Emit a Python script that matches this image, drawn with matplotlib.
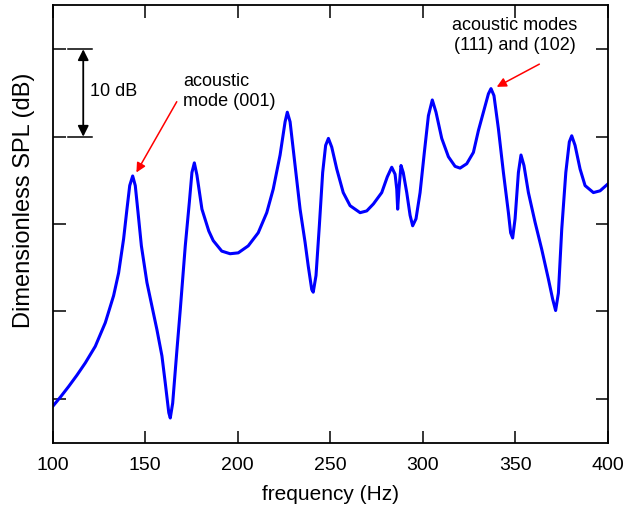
import numpy as np
import matplotlib
matplotlib.use('Agg')
import matplotlib.pyplot as plt

plt.rcParams['font.family'] = ['Liberation Sans', 'DejaVu Sans']

# frequency (Hz) and dimensionless SPL (dB)
freq = [100, 104.3, 108.7, 113.2, 117.7, 123.1, 128.5, 133.0, 135.7, 138.4, 140.2,
        141.7, 143.3, 144.7, 146.2, 148.0, 151.0, 153.7, 156.4, 159.1, 160.9, 162.8,
        163.6, 164.9, 167.2, 169.0, 171.7, 173.9, 175.3, 176.6, 178.0, 180.7, 184.4,
        186.8, 191.4, 195.9, 200.3, 205.7, 211.1, 215.7, 219.2, 222.9, 225.6, 226.8,
        228.3, 231.0, 233.7, 236.4, 238.1, 240.0, 240.8, 242.3, 244.1, 245.9, 247.5,
        249.0, 250.8, 253.5, 257.0, 260.7, 266.1, 269.7, 273.3, 277.8, 280.8, 283.2,
        285.0, 285.9, 286.4, 287.1, 288.2, 289.4, 291.3, 293.1, 294.5, 296.3, 298.5,
        300.8, 303.0, 305.1, 307.1, 310.2, 313.8, 317.4, 320.1, 323.7, 327.3, 330.0,
        332.7, 335.4, 336.8, 338.4, 340.8, 343.5, 346.2, 347.4, 348.5, 349.8, 351.6,
        353.0, 354.6, 357.0, 360.6, 364.2, 367.8, 370.1, 371.7, 373.2, 375.0, 377.2,
        379.1, 380.4, 382.2, 384.9, 387.6, 392.1, 395.7, 400]
spl = [-0.9, 0.2, 1.4, 2.7, 4.1, 6.0, 8.7, 11.8, 14.4, 18.3, 21.7,
       24.4, 25.5, 24.4, 21.3, 17.5, 13.3, 10.6, 7.9, 4.9, 1.8, -1.6,
       -2.2, -0.5, 5.6, 10.2, 17.5, 22.5, 25.9, 27.0, 25.6, 21.7, 19.2,
       18.1, 16.9, 16.6, 16.7, 17.5, 19.0, 21.3, 24.0, 27.9, 31.7, 32.8,
       31.7, 26.7, 21.7, 17.9, 15.2, 12.5, 12.2, 14.1, 19.8, 25.9, 29.0,
       29.8, 28.8, 26.3, 23.6, 22.1, 21.3, 21.5, 22.3, 23.6, 25.4, 26.5,
       25.7, 24.0, 21.7, 24.0, 26.7, 25.9, 23.6, 21.0, 19.8, 20.6, 23.6,
       28.2, 32.4, 34.2, 32.8, 29.8, 27.7, 26.6, 26.4, 26.9, 28.2, 30.7,
       32.8, 34.9, 35.5, 34.7, 30.9, 25.9, 21.3, 19.0, 18.4, 20.6, 25.9,
       27.9, 26.7, 23.6, 20.2, 17.1, 13.7, 11.4, 10.1, 12.1, 19.4, 25.9,
       29.4, 30.1, 29.0, 26.3, 24.4, 23.6, 23.8, 24.6]

xticks = [100, 150, 200, 250, 300, 350, 400]
yticks = [0, 10, 20, 30, 40]

fig = plt.figure(figsize=(6.28, 5.08), dpi=100)
ax = fig.add_axes([0.0836, 0.128, 0.8846, 0.862])

ax.plot(freq, spl, color='#0000ff', lw=2.2)

ax.set_xlim(100, 400)
ax.set_ylim(-5.06, 45.06)
ax.set_xticks(xticks)
ax.set_yticks(yticks)
ax.set_yticklabels([])
ax.tick_params(direction='in', length=9, width=1.1, top=True, right=True,
               labelsize=14, pad=10)
for s in ax.spines.values():
    s.set_linewidth(1.3)

fig.text(330 / 628, 1 - 495 / 508, 'frequency (Hz)', fontsize=15,
         ha='center', va='center')
fig.text(24 / 628, 1 - 200 / 508, 'Dimensionless SPL (dB)', fontsize=17,
         rotation=90, ha='center', va='center')

# 10 dB scale bar
ax.plot([108.5, 121.2], [40, 40], color='black', lw=1.1)
ax.plot([108.5, 121.2], [30, 30], color='black', lw=1.1)
ax.annotate('', xy=(116.6, 40), xytext=(116.6, 30),
            arrowprops=dict(arrowstyle='<|-|>', color='black', lw=1.3,
                            mutation_scale=16, shrinkA=0, shrinkB=0))
ax.text(120.2, 35.2, '10 dB', fontsize=13, va='center', ha='left')

# mode annotations
ax.annotate('', xy=(145.3, 25.9), xytext=(167.1, 34.0),
            arrowprops=dict(arrowstyle='-|>', color='red', lw=1.1,
                            mutation_scale=14, shrinkA=0, shrinkB=0))
ax.text(170.5, 35.2, 'acoustic\nmode (001)', fontsize=13, va='center', ha='left',
        linespacing=1.2)

ax.annotate('', xy=(339.9, 35.7), xytext=(362.9, 38.3),
            arrowprops=dict(arrowstyle='-|>', color='red', lw=1.1,
                            mutation_scale=14, shrinkA=0, shrinkB=0))
ax.text(349.8, 41.6, 'acoustic modes\n(111) and (102)', fontsize=13, va='center',
        ha='center', linespacing=1.2)

fig.savefig('out.png', dpi=100)
